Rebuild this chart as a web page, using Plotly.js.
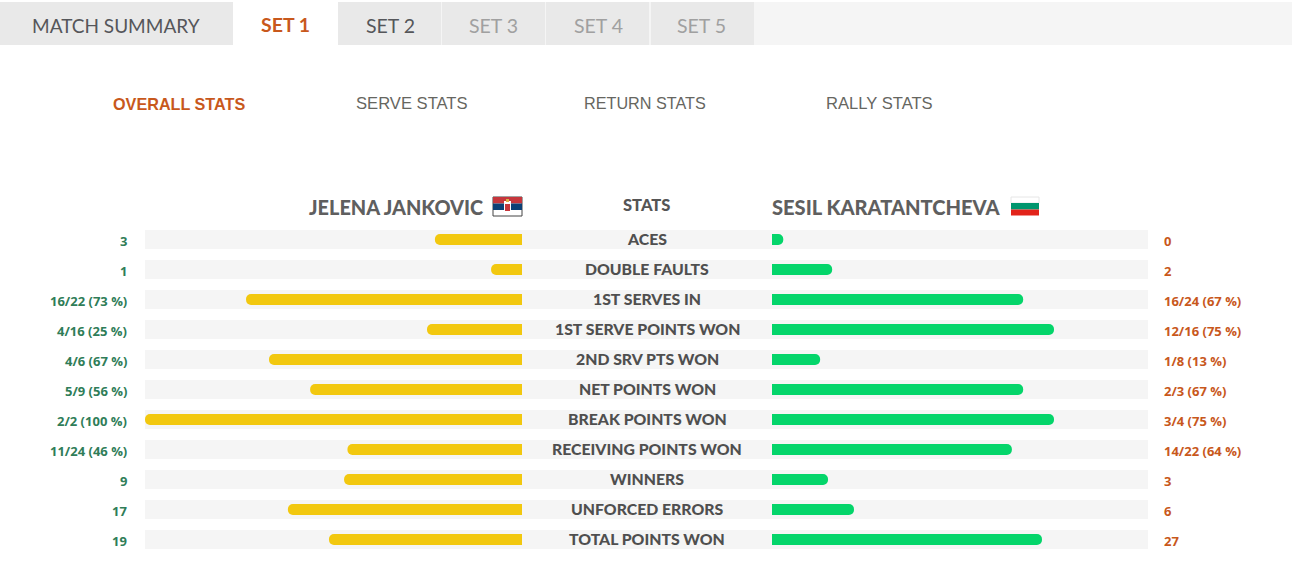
<!DOCTYPE html>
<html>
<head>
<meta charset="utf-8">
<script src="https://cdn.plot.ly/plotly-3.0.1.min.js"></script>
<style>html,body{margin:0;padding:0;background:#fff;overflow:hidden}#chart{width:1292px;height:578px}</style>
</head>
<body>
<div id="chart"></div>
<script>
var categories = ["ACES","DOUBLE FAULTS","1ST SERVES IN","1ST SERVE POINTS WON","2ND SRV PTS WON","NET POINTS WON","BREAK POINTS WON","RECEIVING POINTS WON","WINNERS","UNFORCED ERRORS","TOTAL POINTS WON"];
var jankovicLabels = ["3","1","16/22 (73 %)","4/16 (25 %)","4/6 (67 %)","5/9 (56 %)","2/2 (100 %)","11/24 (46 %)","9","17","19"];
var karatLabels = ["0","2","16/24 (67 %)","12/16 (75 %)","1/8 (13 %)","2/3 (67 %)","3/4 (75 %)","14/22 (64 %)","3","6","27"];
var jankovicBars = [23.1,8.2,73.2,25.2,67.1,56.2,100,46.3,47.2,62.1,51.2];
var karatBars = [3,16,66.8,75,12.8,66.8,75,63.8,14.9,21.8,71.8];
var trackValues = [100,100,100,100,100,100,100,100,100,100,100];
var tabLabels = ["MATCH SUMMARY","SET 1","SET 2","SET 3","SET 4","SET 5"];
var subTabLabels = ["OVERALL STATS","SERVE STATS","RETURN STATS","RALLY STATS"];
var playerLeft = "JELENA JANKOVIC", playerRight = "SESIL KARATANTCHEVA", centerHead = "STATS";

var W = 1292, H = 578;
function px(x){return x/W;}
function py(y){return 1-y/H;}
var shapes = [];
function rect(x0,y0,x1,y1,color,line){
  shapes.push({type:'rect',xref:'paper',yref:'paper',x0:px(x0),x1:px(x1),y0:py(y1),y1:py(y0),fillcolor:color,
    line:line?{color:line,width:1}:{width:0},layer:'below'});
}
var ann = [];
function text(t,x,y,size,color,anchor,family,weight){
  ann.push({text:t,xref:'paper',yref:'paper',x:px(x),y:py(y),xanchor:anchor,yanchor:'middle',showarrow:false,
    font:{size:size,color:color,family:family,weight:weight||400},borderpad:0,borderwidth:0});
}
// tab strip
rect(0,2,1292,45,'#f5f5f5');
var tabX = [[0,233],[338,441],[442,545],[546,649],[651,754]];
tabX.forEach(function(t){rect(t[0],2,t[1],45,'#e9e9e9');});
rect(233,0,338,46,'#ffffff');
var LATO = 'Lato, sans-serif', ARIAL = '"Liberation Sans", Arial, sans-serif', VALUE = '"Open Sans", sans-serif';
text(tabLabels[0],115.5,25.4,19,'#55565a','center',LATO);
text(tabLabels[1],285.5,25,19.5,'#c8581c','center',LATO,700);
text(tabLabels[2],390,25.4,19.5,'#55565a','center',LATO);
text(tabLabels[3],494,25.4,19.5,'#a0a0a0','center',LATO);
text(tabLabels[4],598,25.4,19.5,'#a0a0a0','center',LATO);
text(tabLabels[5],702,25.4,19.5,'#a0a0a0','center',LATO);
text(subTabLabels[0],178.5,104.4,16.2,'#c8581c','center',ARIAL,700);
text(subTabLabels[1],412,104,16.6,'#66665f','center',ARIAL);
text(subTabLabels[2],645,103.4,16.2,'#66665f','center',ARIAL);
text(subTabLabels[3],879,104,16.6,'#66665f','center',ARIAL);
// player headers
text(playerLeft,482.5,207,19.9,'#5f5f5f','right',LATO,900);
text(centerHead,646.5,205,16.5,'#555555','center',LATO,900);
text(playerRight,771.5,207,20.1,'#5f5f5f','left',LATO,900);
// Serbian flag
rect(493,197,522,216,'#ffffff','#444444');
rect(493,197,522,203.5,'#c6363c');
rect(493,203.5,522,210,'#0c4076');
rect(504,201,511,212,'#ffffff');
rect(505,204,510,211,'#c6363c');
rect(506,199,509,202,'#d9b04a');
// Bulgarian flag
rect(1011,197,1039,203,'#ffffff','#e6e6e6');
rect(1011,203,1039,209.5,'#00966e');
rect(1011,209.5,1039,215.5,'#e2231a');
// row labels
categories.forEach(function(c,i){
  ann.push({text:c,xref:'paper',yref:'y',x:px(647),y:c,yshift:1,xanchor:'center',yanchor:'middle',showarrow:false,
    font:{size:15.8,color:'#4f4f4f',family:LATO,weight:900}});
  ann.push({text:jankovicLabels[i],xref:'paper',yref:'y',x:px(129),y:c,yshift:-1.5,xanchor:'right',yanchor:'middle',showarrow:false,
    font:{size:13,color:'#2f7d58',family:VALUE,weight:700}});
  ann.push({text:karatLabels[i],xref:'paper',yref:'y',x:px(1161.5),y:c,yshift:-1.5,xanchor:'left',yanchor:'middle',showarrow:false,
    font:{size:13,color:'#c8581c',family:VALUE,weight:700}});
});

var traces = [
  {type:'bar',orientation:'h',name:'track',y:categories,x:trackValues,xaxis:'x',yaxis:'y',width:19/30,
   marker:{color:'#f5f5f5',line:{width:0}},hoverinfo:'skip'},
  {type:'bar',orientation:'h',name:'Jelena Jankovic',y:categories,x:jankovicBars,xaxis:'x2',yaxis:'y',width:11/30,
   marker:{color:'#f2c80f',cornerradius:5.5,line:{width:0}}},
  {type:'bar',orientation:'h',name:'Sesil Karatantcheva',y:categories,x:karatBars,xaxis:'x3',yaxis:'y',width:11/30,
   marker:{color:'#04d56a',cornerradius:5.5,line:{width:0}}}
];
var hidden = {showgrid:false,zeroline:false,showticklabels:false,ticks:'',showline:false,fixedrange:true};
var layout = {
  width:W,height:H,margin:{l:0,r:0,t:0,b:0,pad:0},paper_bgcolor:'#ffffff',plot_bgcolor:'rgba(0,0,0,0)',
  showlegend:false,font:{family:LATO},
  xaxis:Object.assign({domain:[px(145),px(1148)],range:[0,100],anchor:'y'},hidden),
  xaxis2:Object.assign({domain:[px(145),px(522)],range:[100,0],anchor:'y'},hidden),
  xaxis3:Object.assign({domain:[px(772),px(1148)],range:[0,100],anchor:'y'},hidden),
  yaxis:Object.assign({domain:[0,1],type:'category',categoryorder:'array',categoryarray:categories,
    range:[(H-239.5)/30,-239.5/30]},hidden),
  shapes:shapes,annotations:ann
};
Plotly.newPlot('chart',traces,layout,{displayModeBar:false,staticPlot:true});
</script>
</body>
</html>
